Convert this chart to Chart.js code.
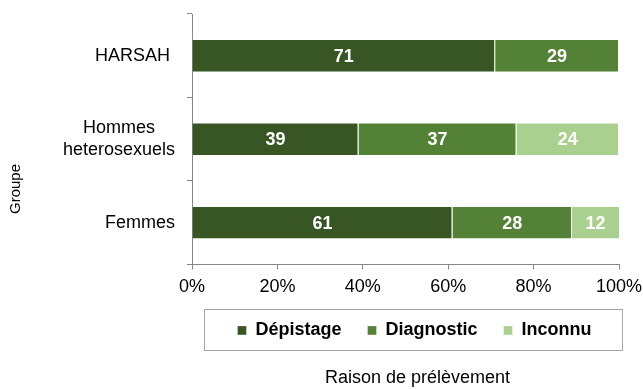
<!DOCTYPE html>
<html>
<head>
<meta charset="utf-8">
<script src="https://cdn.jsdelivr.net/npm/chart.js@4/dist/chart.umd.min.js"></script>
<style>
  html, body { margin: 0; padding: 0; background: #fff; }
  #wrap { width: 643px; height: 389px; }
</style>
</head>
<body>
<div id="wrap"><canvas id="myChart" width="643" height="389"></canvas></div>
<script>
// groupes (axe vertical) - espaces en fin pour centrer "Hommes" sur la 2e ligne
const groupes = ['HARSAH ', ['Hommes    ', 'heterosexuels'], 'Femmes'];
// raison de prélèvement, en % par groupe
const depistage = [71, 39, 61];
const diagnostic = [29, 37, 28];
const inconnu = [0, 24, 12];
const xTickLabels = ['0%', '20%', '40%', '60%', '80%', '100%'];

const couleurs = ['#375623', '#538135', '#A9D08E'];
const gris = '#868686';

Chart.defaults.font.family = '"Liberation Sans", Arial, sans-serif';
Chart.defaults.color = '#000';

var ctx = document.getElementById('myChart').getContext('2d');

// valeurs écrites au centre de chaque segment
const valeursBarres = {
  id: 'valeursBarres',
  afterDatasetsDraw(chart) {
    const c = chart.ctx;
    c.save();
    c.font = 'bold 18px "Liberation Sans", Arial, sans-serif';
    c.fillStyle = '#fff';
    c.textAlign = 'center';
    c.textBaseline = 'middle';
    chart.data.datasets.forEach((ds, i) => {
      chart.getDatasetMeta(i).data.forEach((bar, j) => {
        const v = ds.data[j];
        if (!v) return;
        const fin = Math.min(bar.x, chart.chartArea.right);
        c.fillText(v, (fin + bar.base) / 2, bar.y + 1);
      });
    });
    c.restore();
  }
};

// décale légende et titre du bas un peu vers la droite
const decalage = {
  id: 'decalage',
  afterLayout(chart) {
    chart.legend.left += 9;
    chart.legend.right += 9;
    if (chart.titleBlock) {
      chart.titleBlock.left += 12;
      chart.titleBlock.right += 12;
    }
  }
};

// cadre autour de la légende + titre vertical "Groupe"
const habillage = {
  id: 'habillage',
  afterDraw(chart) {
    const c = chart.ctx;
    const boxes = chart.legend.legendHitBoxes;
    if (boxes && boxes.length) {
      const first = boxes[0], last = boxes[boxes.length - 1];
      c.save();
      c.strokeStyle = '#a6a6a6';
      c.lineWidth = 1;
      const x0 = Math.round(first.left - 33) + 0.5;
      const x1 = Math.round(last.left + last.width + 30) + 0.5;
      const y0 = Math.round(first.top - 12) + 0.5;
      const y1 = Math.round(first.top + first.height + 11) + 0.5;
      c.strokeRect(x0, y0, x1 - x0, y1 - y0);
      c.restore();
    }
    c.save();
    c.translate(16, 189);
    c.rotate(-Math.PI / 2);
    c.font = '15px "Liberation Sans", Arial, sans-serif';
    c.fillStyle = '#000';
    c.textAlign = 'center';
    c.textBaseline = 'middle';
    c.fillText('Groupe', 0, 0);
    c.restore();
  }
};

var config = {
  type: 'bar',
  data: {
    labels: groupes,
    datasets: [
      { label: 'Dépistage', data: depistage, backgroundColor: couleurs[0] },
      { label: 'Diagnostic', data: diagnostic, backgroundColor: couleurs[1] },
      { label: 'Inconnu', data: inconnu, backgroundColor: couleurs[2] }
    ]
  },
  options: {
    indexAxis: 'y',
    responsive: false,
    animation: false,
    datasets: {
      bar: {
        barPercentage: 0.4,
        categoryPercentage: 1,
        borderWidth: 1,
        borderColor: 'rgba(255,255,255,0.35)'
      }
    },
    layout: { padding: { top: 14, right: 24, left: 0, bottom: 0 } },
    scales: {
      x: {
        stacked: true,
        min: 0,
        max: 100,
        ticks: {
          stepSize: 20,
          padding: 7,
          font: { size: 18 },
          callback: (v, i) => xTickLabels[i]
        },
        grid: { drawOnChartArea: false, tickLength: 5, color: gris },
        border: { color: gris },
        afterFit: (s) => { s.height = 31; s.paddingLeft = 0; s.paddingRight = 0; }
      },
      y: {
        stacked: true,
        ticks: { padding: 12, font: { size: 18 } },
        grid: { drawOnChartArea: false, tickLength: 5, color: gris, offset: true },
        border: { color: gris },
        afterFit: (s) => { s.width = 192; s.paddingTop = 0; s.paddingBottom = 0; }
      }
    },
    plugins: {
      legend: {
        position: 'bottom',
        fullSize: false,
        labels: {
          boxWidth: 9,
          boxHeight: 9,
          padding: 26,
          font: { size: 18, weight: 'bold' },
          color: '#000'
        }
      },
      title: {
        display: true,
        position: 'bottom',
        fullSize: false,
        text: 'Raison de prélèvement',
        font: { size: 18, weight: 'normal' },
        color: '#000',
        padding: { top: 18, bottom: 0 }
      },
      tooltip: { enabled: false }
    }
  },
  plugins: [valeursBarres, decalage, habillage]
};

var chart = new Chart(ctx, config);
</script>
</body>
</html>
